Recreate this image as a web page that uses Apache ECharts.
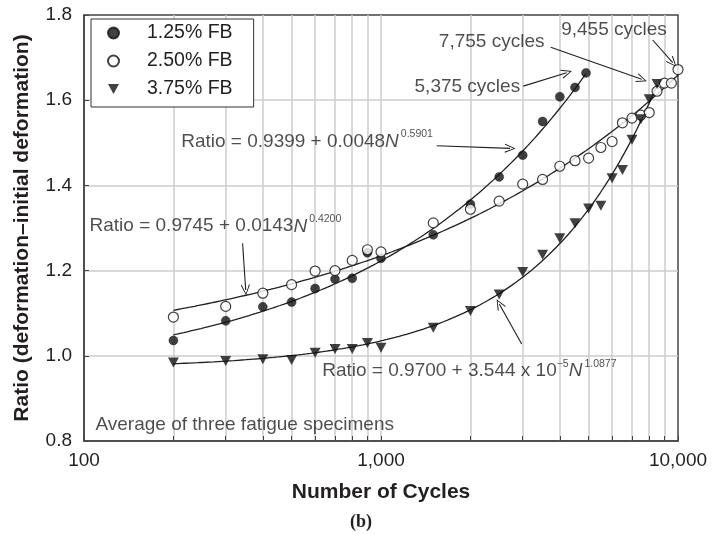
<!DOCTYPE html>
<html>
<head>
<meta charset="utf-8">
<script src="https://cdn.jsdelivr.net/npm/echarts@6/dist/echarts.min.js"></script>
<style>
  html, body { margin: 0; padding: 0; background: #fff; }
  #chart { width: 722px; height: 535px; }
</style>
</head>
<body>
<div id="chart"></div>
<script>
// ---- measured data: ratio vs. number of cycles ----
const seriesNames = ['1.25% FB', '2.50% FB', '3.75% FB'];

const cycles125 = [200, 300, 400, 500, 600, 700, 800, 900, 1000, 1500, 2000, 2500, 3000, 3500, 4000, 4500, 4900];
const ratio125  = [1.036, 1.082, 1.115, 1.126, 1.158, 1.180, 1.182, 1.242, 1.229, 1.284, 1.356, 1.420, 1.471, 1.550, 1.608, 1.630, 1.664];

const cycles250 = [200, 300, 400, 500, 600, 700, 800, 900, 1000, 1500, 2000, 2500, 3000, 3500, 4000, 4500, 5000, 5500, 6000, 6500, 7000, 7500, 8000, 8500, 9000, 9500, 10000];
const ratio250  = [1.091, 1.116, 1.147, 1.167, 1.199, 1.200, 1.224, 1.249, 1.244, 1.312, 1.344, 1.363, 1.403, 1.414, 1.445, 1.458, 1.464, 1.489, 1.503, 1.547, 1.558, 1.565, 1.571, 1.621, 1.640, 1.640, 1.672];

const cycles375 = [200, 300, 400, 500, 600, 700, 800, 900, 1000, 1500, 2000, 2500, 3000, 3500, 4000, 4500, 5000, 5500, 6000, 6500, 7000, 7500, 8000, 8500];
const ratio375  = [0.984, 0.988, 0.992, 0.990, 1.007, 1.016, 1.016, 1.030, 1.019, 1.066, 1.105, 1.144, 1.197, 1.237, 1.276, 1.311, 1.346, 1.352, 1.417, 1.436, 1.507, 1.555, 1.602, 1.638];

// ---- power-law fits: Ratio = a + b * N^p ----
const fitA = [0.9399, 0.9745, 0.9700];
const fitB = [0.0048, 0.0143, 3.544e-5];
const fitP = [0.5901, 0.4200, 1.0877];
const fitStart = [200, 200, 200];
const fitEnd = [4900, 10000, 8500];

// ---- axis ticks ----
const xLabelTicks = [100, 1000, 10000];
const xAllTicks = [100, 200, 300, 400, 500, 600, 700, 800, 900,
                   1000, 2000, 3000, 4000, 5000, 6000, 7000, 8000, 9000, 10000];
const yMin = 0.8, yMax = 1.8, yStep = 0.2;

// ---- text notes ----
const noteTexts = ['Average of three fatigue specimens', '5,375 cycles', '7,755 cycles', '9,455 cycles'];

// ---- annotation layout (data coordinates) ----
const eqAnchor = [[213.3, 1.5005], [104.8, 1.303], [636.4, 0.9627]];
const eqArrow = [
  [[1540, 1.493], [2719, 1.487]],
  [[342, 1.264], [350.3, 1.1545]],
  [[2976, 1.0277], [2502, 1.1216]]
];
const noteAnchor = [[109.7, 0.8376], [1302, 1.6303], [1572, 1.735], [4058, 1.7632]];
const noteArrow = [
  null,
  [[3013, 1.633], [4220, 1.6646]],
  [[3727, 1.7242], [7548, 1.649]],
  [[8219, 1.7413], [9598, 1.688]]
];

const INK = '#231f20';
const FONT = '"Liberation Sans", Arial, Helvetica, sans-serif';

function zip(xs, ys) { return xs.map((x, i) => [x, ys[i]]); }

function fitCurve(k) {
  const pts = [];
  const steps = 120;
  const lo = Math.log10(fitStart[k]), hi = Math.log10(fitEnd[k]);
  for (let i = 0; i <= steps; i++) {
    const n = Math.pow(10, lo + (hi - lo) * i / steps);
    pts.push([n, fitA[k] + fitB[k] * Math.pow(n, fitP[k])]);
  }
  return pts;
}

function coefText(b) {
  if (b >= 0.001) return { main: b.toFixed(4), exp: null };
  const e = Math.floor(Math.log10(b));
  const m = b / Math.pow(10, e);
  return { main: m.toFixed(3) + ' x 10', exp: (e < 0 ? '\u2212' : '') + Math.abs(e) };
}

function equationLabel(k) {
  const c = coefText(fitB[k]);
  let s = '{t|Ratio = ' + fitA[k].toFixed(4) + ' + ' + c.main + '}';
  if (c.exp) s += '{s|' + c.exp + '}';
  s += '{n|N}';
  s += '{sg|' + fitP[k].toFixed(4) + '}';
  return s;
}

const richStyles = {
  t: { fontSize: 19, lineHeight: 26, color: INK, fontFamily: FONT },
  n: { fontSize: 19, lineHeight: 26, color: INK, fontFamily: FONT, fontStyle: 'italic' },
  s: { fontSize: 10.5, lineHeight: 12, color: INK, fontFamily: FONT, verticalAlign: 'top' },
  sg: { fontSize: 10.5, lineHeight: 12, color: INK, fontFamily: FONT, verticalAlign: 'top', padding: [0, 0, 0, 2] }
};

const chevron = 'path://M0,0 L6,11 L4.9,11.7 L0,2.2 L-4.9,11.7 L-6,11 Z';

const annotationData = [];
eqAnchor.forEach((p, k) => annotationData.push({ value: p, label: { formatter: equationLabel(k) } }));
noteAnchor.forEach((p, k) => annotationData.push({ value: p, label: { formatter: '{t|' + noteTexts[k] + '}' } }));

const arrowLines = [];
eqArrow.concat(noteArrow).forEach(a => {
  if (a) arrowLines.push([{ coord: a[0] }, { coord: a[1] }]);
});

const chart = echarts.init(document.getElementById('chart'), null, { renderer: 'canvas' });

const fitSeries = [0, 1, 2].map(k => ({
  type: 'line',
  name: 'fit' + k,
  data: fitCurve(k),
  showSymbol: false,
  symbol: 'none',
  smooth: false,
  lineStyle: { color: INK, width: 1.3 },
  silent: true,
  z: 2
}));

const option = {
  animation: false,
  backgroundColor: '#fff',
  textStyle: { fontFamily: FONT, color: INK },
  title: {
    text: '(b)',
    left: 'center',
    top: 508,
    textStyle: { fontFamily: '"Liberation Serif", "Times New Roman", serif', fontWeight: 'bold', fontSize: 18, color: INK }
  },
  grid: {
    left: 84, right: 44, top: 15, bottom: 94,
    show: true, borderColor: '#444', borderWidth: 1.5, backgroundColor: 'transparent'
  },
  legend: {
    data: seriesNames,
    orient: 'vertical',
    left: 91, top: 19,
    padding: [4, 21, 8, 16],
    itemWidth: 11, itemHeight: 11, itemGap: 8,
    backgroundColor: '#fff',
    borderColor: '#333', borderWidth: 1, borderRadius: 0,
    selectedMode: false,
    textStyle: { fontSize: 19.5, color: INK, fontFamily: FONT, lineHeight: 20, padding: [0, 0, 0, 23] },
    z: 10
  },
  xAxis: {
    type: 'log',
    logBase: 10,
    min: 100, max: 10000,
    name: 'Number of Cycles',
    nameLocation: 'middle',
    nameGap: 41,
    nameTextStyle: { fontSize: 21, fontWeight: 'bold', color: INK, fontFamily: FONT },
    axisLine: { show: true, lineStyle: { color: '#444', width: 1.5 } },
    axisTick: { show: true, inside: true, length: 5, customValues: xAllTicks, lineStyle: { color: '#444', width: 1 } },
    axisLabel: {
      customValues: xLabelTicks,
      fontSize: 19, color: INK, margin: 10, fontFamily: FONT,
      formatter: v => Number(v).toLocaleString('en-US')
    },
    splitLine: { show: true, showMinLine: false, showMaxLine: false, lineStyle: { color: '#cccccc', width: 1.5 } },
    minorTick: { show: false },
    minorSplitLine: { show: false }
  },
  yAxis: {
    type: 'value',
    min: yMin, max: yMax, interval: yStep,
    name: 'Ratio (deformation\u2013initial deformation)',
    nameLocation: 'middle',
    nameGap: 51,
    nameTextStyle: { fontSize: 21, fontWeight: 'bold', color: INK, fontFamily: FONT },
    axisLine: { show: true, lineStyle: { color: '#444', width: 1.5 } },
    axisTick: { show: true, inside: true, length: 5, lineStyle: { color: '#444', width: 1 } },
    axisLabel: { fontSize: 19, color: INK, margin: 12, fontFamily: FONT, formatter: v => v.toFixed(1) },
    splitLine: { show: true, showMinLine: false, showMaxLine: false, lineStyle: { color: '#cccccc', width: 1.5 } }
  },
  series: fitSeries.concat([
    {
      type: 'scatter',
      name: seriesNames[0],
      data: zip(cycles125, ratio125),
      symbol: 'circle',
      symbolSize: 9,
      itemStyle: { color: '#111', borderColor: '#111', borderWidth: 0.5 },
      z: 4
    },
    {
      type: 'scatter',
      name: seriesNames[1],
      data: zip(cycles250, ratio250),
      symbol: 'circle',
      symbolSize: 10,
      itemStyle: { color: '#fff', borderColor: '#111', borderWidth: 1.2 },
      z: 5
    },
    {
      type: 'scatter',
      name: seriesNames[2],
      data: zip(cycles375, ratio375),
      symbol: 'path://M0,0 L10,0 L5,9 Z',
      symbolSize: [11, 10],
      itemStyle: { color: '#111' },
      z: 6
    },
    {
      type: 'scatter',
      name: 'notes',
      data: annotationData,
      symbol: 'circle',
      symbolSize: 1,
      itemStyle: { color: 'rgba(0,0,0,0)' },
      silent: true,
      z: 7,
      label: {
        show: true,
        position: [0, 0],
        align: 'left',
        verticalAlign: 'middle',
        rich: richStyles
      },
      markLine: {
        silent: true,
        symbol: ['none', chevron],
        symbolSize: [9, 11],
        label: { show: false },
        lineStyle: { color: INK, width: 1.1, type: 'solid' },
        emphasis: { disabled: true },
        data: arrowLines
      }
    }
  ])
};

chart.setOption(option);
</script>
</body>
</html>
